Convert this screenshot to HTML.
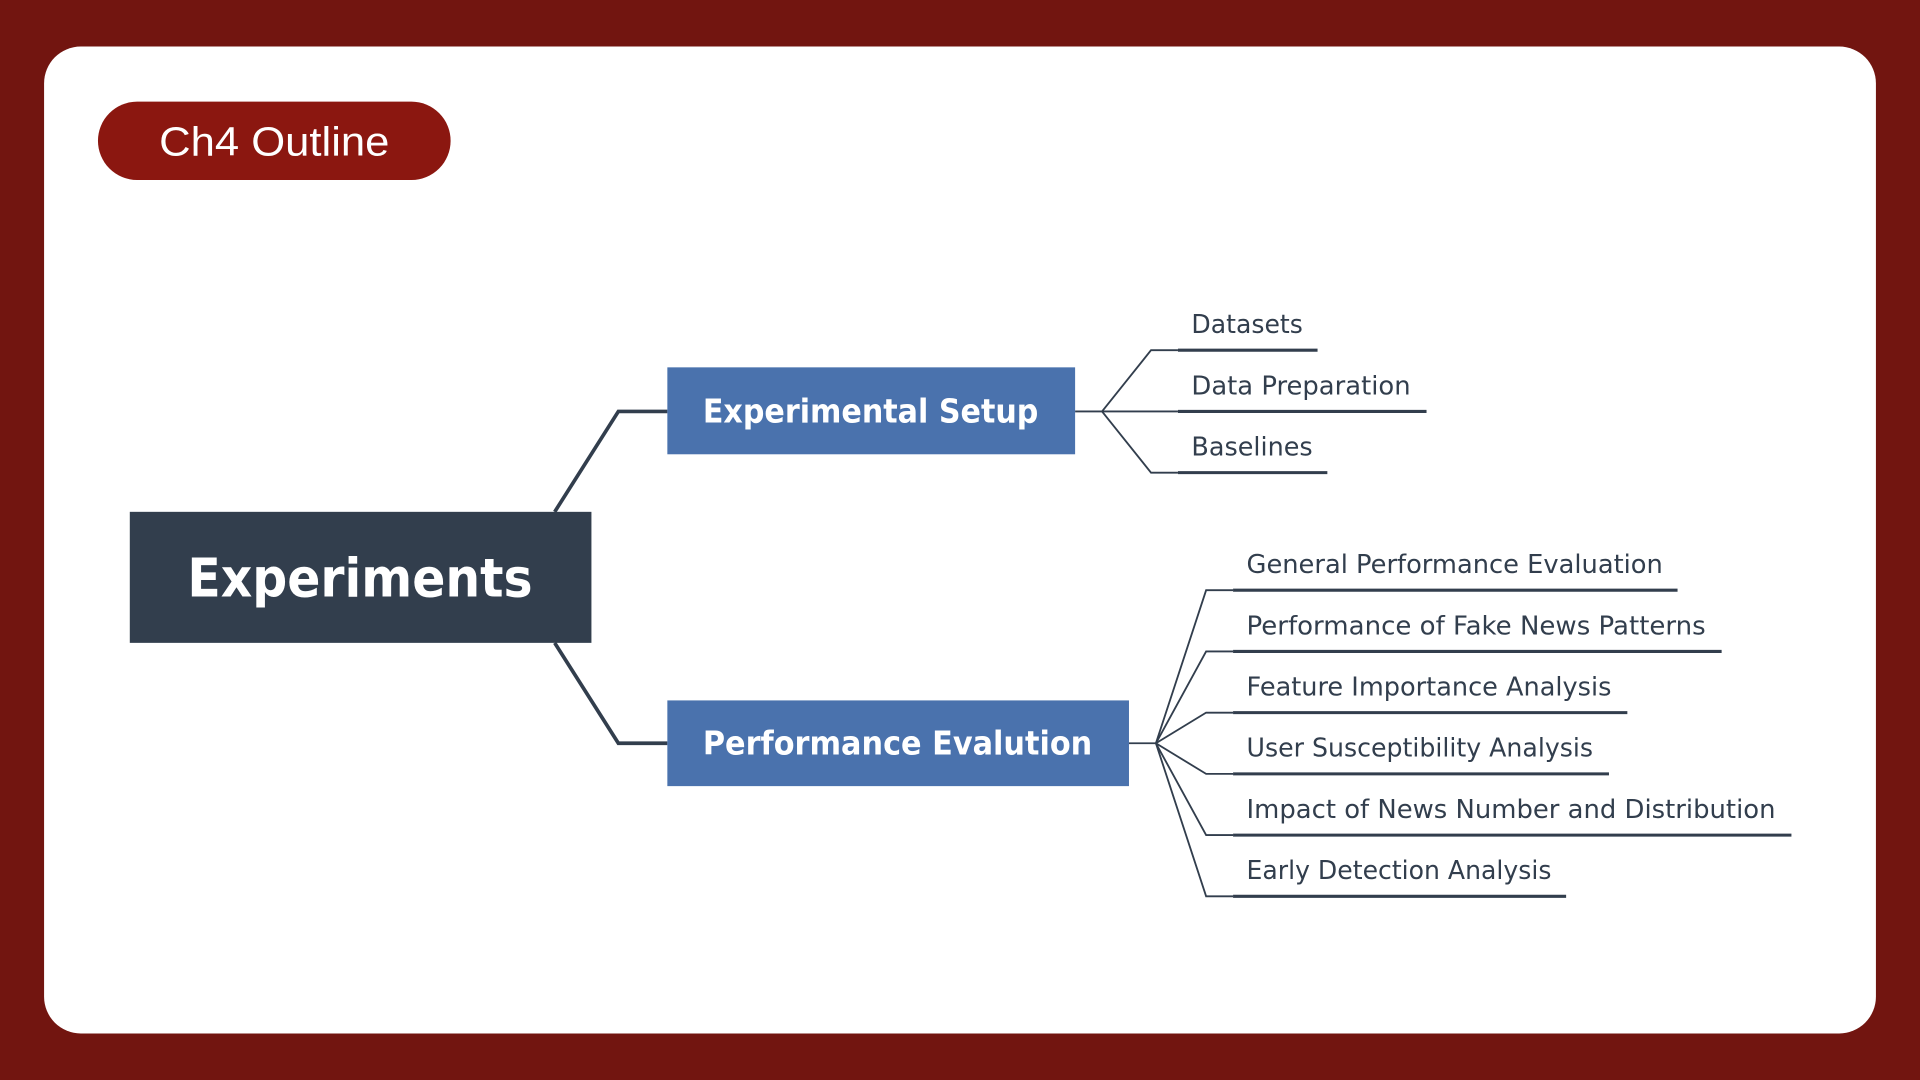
<!DOCTYPE html>
<html><head><meta charset="utf-8"><style>
html,body{margin:0;padding:0;width:1920px;height:1080px;overflow:hidden;background:#721510}
svg{display:block}
</style></head><body>
<svg width="1920" height="1080" viewBox="0 0 1568 882" xmlns="http://www.w3.org/2000/svg">
<rect x="0" y="0" width="1568" height="882" fill="#721510"/>
<rect x="36" y="38" width="1496" height="806" rx="30" fill="#ffffff"/>
<rect x="80" y="83" width="288" height="64" rx="32" fill="#8B1710"/>
<text x="224" y="127" text-anchor="middle" font-family="Liberation Sans, sans-serif" font-size="33" fill="#fff" textLength="188" lengthAdjust="spacingAndGlyphs">Ch4 Outline</text>

<g fill="none" stroke="#323E4D" stroke-width="3">
<polyline points="453,418 505,336 545,336"/>
<polyline points="453,525 505,607 545,607"/>
</g>
<g fill="none" stroke="#323E4D" stroke-width="1.5">
<line x1="878" y1="336" x2="900" y2="336"/>
<polyline points="900,336 940,286 962,286"/>
<line x1="900" y1="336" x2="962" y2="336"/>
<polyline points="900,336 940,386 962,386"/>
<line x1="922" y1="607" x2="944" y2="607"/>
<polyline points="944,607 985,482 1007,482"/>
<polyline points="944,607 985,532 1007,532"/>
<polyline points="944,607 985,582 1007,582"/>
<polyline points="944,607 985,632 1007,632"/>
<polyline points="944,607 985,682 1007,682"/>
<polyline points="944,607 985,732 1007,732"/>
</g>
<g stroke="#323E4D" stroke-width="2.5">
<line x1="962" y1="286" x2="1076" y2="286"/>
<line x1="962" y1="336" x2="1165" y2="336"/>
<line x1="962" y1="386" x2="1084" y2="386"/>
<line x1="1007" y1="482" x2="1370" y2="482"/>
<line x1="1007" y1="532" x2="1406" y2="532"/>
<line x1="1007" y1="582" x2="1329" y2="582"/>
<line x1="1007" y1="632" x2="1314" y2="632"/>
<line x1="1007" y1="682" x2="1463" y2="682"/>
<line x1="1007" y1="732" x2="1279" y2="732"/>
</g>

<rect x="106" y="418" width="377" height="107" fill="#323E4D"/>
<text x="294" y="487" text-anchor="middle" font-family="DejaVu Sans, sans-serif" font-weight="bold" font-size="44" fill="#fff" textLength="282" lengthAdjust="spacingAndGlyphs">Experiments</text>
<rect x="545" y="300" width="333" height="71" fill="#4A72AD"/>
<text x="711" y="345" text-anchor="middle" font-family="DejaVu Sans, sans-serif" font-weight="bold" font-size="27" fill="#fff" textLength="274" lengthAdjust="spacingAndGlyphs">Experimental Setup</text>
<rect x="545" y="572" width="377" height="70" fill="#4A72AD"/>
<text x="733" y="616" text-anchor="middle" font-family="DejaVu Sans, sans-serif" font-weight="bold" font-size="27" fill="#fff" textLength="318" lengthAdjust="spacingAndGlyphs">Performance Evalution</text>

<g font-family="DejaVu Sans, sans-serif" font-size="21" fill="#323E4D" lengthAdjust="spacingAndGlyphs">
<text x="973" y="272" textLength="91" lengthAdjust="spacingAndGlyphs">Datasets</text>
<text x="973" y="322" textLength="179" lengthAdjust="spacingAndGlyphs">Data Preparation</text>
<text x="973" y="372" textLength="99" lengthAdjust="spacingAndGlyphs">Baselines</text>
<text x="1018" y="468" textLength="340" lengthAdjust="spacingAndGlyphs">General Performance Evaluation</text>
<text x="1018" y="518" textLength="375" lengthAdjust="spacingAndGlyphs">Performance of Fake News Patterns</text>
<text x="1018" y="568" textLength="298" lengthAdjust="spacingAndGlyphs">Feature Importance Analysis</text>
<text x="1018" y="618" textLength="283" lengthAdjust="spacingAndGlyphs">User Susceptibility Analysis</text>
<text x="1018" y="668" textLength="432" lengthAdjust="spacingAndGlyphs">Impact of News Number and Distribution</text>
<text x="1018" y="718" textLength="249" lengthAdjust="spacingAndGlyphs">Early Detection Analysis</text>
</g>
</svg>
</body></html>
